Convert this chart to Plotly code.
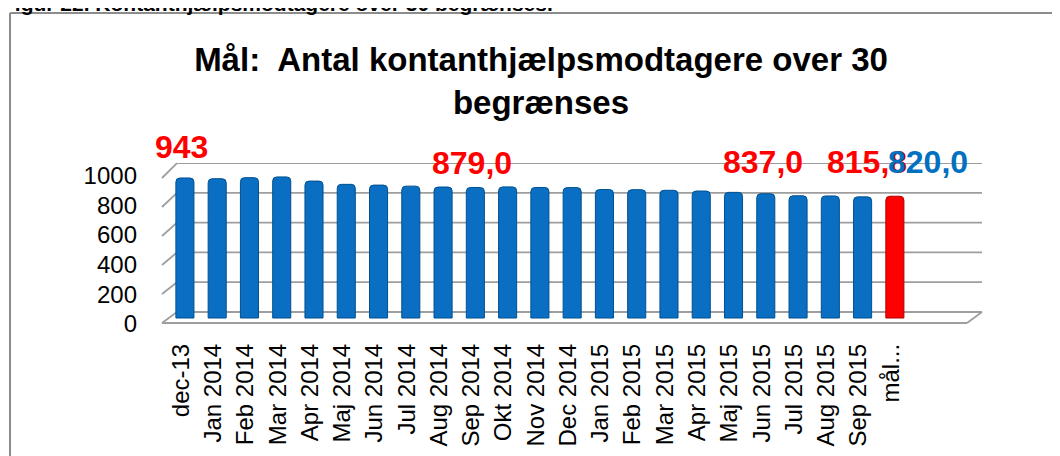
import plotly.graph_objects as go

# ---------------- data ----------------
categories = ["dec-13", "Jan 2014", "Feb 2014", "Mar 2014", "Apr 2014", "Maj 2014",
              "Jun 2014", "Jul 2014", "Aug 2014", "Sep 2014", "Okt 2014", "Nov 2014",
              "Dec 2014", "Jan 2015", "Feb 2015", "Mar 2015", "Apr 2015", "Maj 2015",
              "Jun 2015", "Jul 2015", "Aug 2015", "Sep 2015", "mål..."]
values = [943, 938, 945, 950, 922, 900, 895, 888, 882, 879, 883, 879,
          878, 865, 864, 860, 855, 846, 837, 823, 822, 815.8, 820]
bar_colors = ["#0A6FC2"] * 22 + ["#FF0000"]
bar_lines = ["#00508F"] * 22 + ["#B00000"]

label_texts = ["943", "879,0", "837,0", "815,8", "820,0"]
label_cats = ["dec-13", "Sep 2014", "Jun 2015", "Sep 2015", "mål..."]
label_colors = ["#FF0000", "#FF0000", "#FF0000", "#FF0000", "#0070C0"]
label_xshift = [-3, -3, -3, 4, 33]
label_ypx = [147, 163, 162, 162, 162]

y_ticks = [0, 200, 400, 600, 800, 1000]

title_text = "Mål:\u00a0 Antal kontanthjælpsmodtagere over 30<br>begrænses"
caption_text = "Figur 22. Kontanthjælpsmodtagere over 30 begrænses."

# ---------------- geometry ----------------
W, H = 1060, 456
OFF = 8                      # page offset of the plot div
L, R, T, B = 154, 86, 155, 141
PW, PH = W - L - R, H - T - B
FONT = "Liberation Sans, Arial, sans-serif"

def px_x(px):
    return (px - OFF - L) / PW

def px_y(py):
    return (H - B - (py - OFF)) / PH

BAR_RANGE = [-33.7, 1043.8]      # bars (middle depth)
GRID_RANGE = [-73.8, 1000.5]     # back wall
FRONT_TOP = 1103.4               # front edge (tick labels)
DEPTH = px_x(177)

def back_frac(v):
    return (v - GRID_RANGE[0]) / (GRID_RANGE[1] - GRID_RANGE[0])

def front_frac(v):
    return v / FRONT_TOP

fig = go.Figure()
fig.add_trace(go.Bar(
    x=categories, y=values, width=0.56,
    marker=dict(color=bar_colors, line=dict(color=bar_lines, width=1), cornerradius=4),
    hoverinfo="skip", showlegend=False,
))

GRID_COLOR = "#9E9E9E"
shapes = []
for v in y_ticks:
    shapes.append(dict(type="line", xref="paper", yref="y2", x0=DEPTH, x1=1.0,
                       y0=v, y1=v, line=dict(color=GRID_COLOR, width=1.8), layer="below"))
    shapes.append(dict(type="line", xref="paper", yref="paper", x0=0, x1=DEPTH,
                       y0=front_frac(v), y1=back_frac(v),
                       line=dict(color=GRID_COLOR, width=1.8), layer="below"))
# floor front edge and right side
shapes.append(dict(type="line", xref="paper", yref="paper", x0=0, x1=px_x(967), y0=0, y1=0,
                   line=dict(color=GRID_COLOR, width=1.8), layer="below"))
shapes.append(dict(type="line", xref="paper", yref="paper", x0=px_x(967), x1=1.0,
                   y0=0, y1=back_frac(0), line=dict(color=GRID_COLOR, width=1.8), layer="below"))
# chart frame
shapes.append(dict(type="line", xref="paper", yref="paper", x0=px_x(10), x1=px_x(10),
                   y0=px_y(480), y1=px_y(13), line=dict(color="#8C8C8C", width=2)))
shapes.append(dict(type="line", xref="paper", yref="paper", x0=px_x(10), x1=px_x(1080),
                   y0=px_y(13), y1=px_y(13), line=dict(color="#8C8C8C", width=2)))

annotations = []
for t, c, col, xs, yp in zip(label_texts, label_cats, label_colors, label_xshift, label_ypx):
    annotations.append(dict(text=f"<b>{t}</b>", x=c, xref="x", y=px_y(yp), yref="paper",
                            xshift=xs, showarrow=False, yanchor="middle", xanchor="center",
                            font=dict(family=FONT, size=32, color=col)))
annotations.append(dict(text=f"<b>{caption_text}</b>", x=px_x(0), xref="paper",
                        y=px_y(17), yref="paper", xanchor="left", yanchor="bottom",
                        showarrow=False, font=dict(family=FONT, size=21, color="black")))

fig.update_layout(
    width=W, height=H,
    margin=dict(l=L, r=R, t=T, b=B, autoexpand=False),
    paper_bgcolor="white", plot_bgcolor="white",
    font=dict(family=FONT, color="black"),
    title=dict(text=f"<b>{title_text}</b>", x=533 / W, xref="container", xanchor="center",
               y=1 - 63 / H, yref="container", yanchor="middle",
               font=dict(family=FONT, size=33, color="black")),
    xaxis=dict(type="category", range=[-0.71, 24.7], showgrid=False, zeroline=False,
               showline=False, ticks="", tickangle=-90, tickfont=dict(size=24),
               ticklabelstandoff=15, ticklabelshift=-4, automargin=False),
    yaxis=dict(range=BAR_RANGE, tickvals=y_ticks, showgrid=False, zeroline=False,
               showline=False, ticks="", tickfont=dict(size=24),
               ticklabelstandoff=24, ticklabelshift=6, automargin=False),
    yaxis2=dict(range=GRID_RANGE, overlaying="y", showgrid=False, zeroline=False,
                showticklabels=False, showline=False, ticks="", automargin=False),
    shapes=shapes, annotations=annotations,
    bargap=0.44,
)

fig.write_html("out.html")
